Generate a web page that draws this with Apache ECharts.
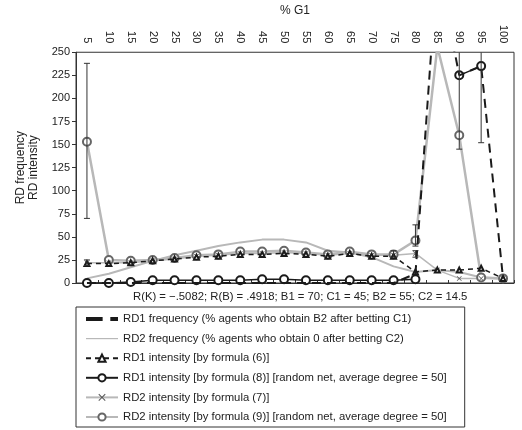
<!DOCTYPE html>
<html><head><meta charset="utf-8">
<script src="https://cdn.jsdelivr.net/npm/echarts/dist/echarts.min.js"></script>
<style>html,body{margin:0;padding:0;background:#fff}#c{width:522px;height:430px}</style>
</head><body><div id="c"></div>
<script>
const categories = ['5','10','15','20','25','30','35','40','45','50','55','60','65','70','75','80','85','90','95','100'];
const yTicks = [0, 250, 25];
const rd1Frequency = [0,0,0,0,0,0,0,0,0,0,0,0,0,0,0,10,345,225,235,5];
const rd2Frequency = [5,10,17,24,30,35,40,44,47,47,44,35,33,28,18,12,14,12,6,5];
const rd1Intensity6 = [21,21,22,24,26,28,29,31,31,32,31,29,32,29,29,12,14,14,16,5];
const rd1Intensity8 = [0,0,1,3,3,3,3,3,4,4,3,3,3,3,3,4,null,225,235,null];
const rd2Intensity7 = [22,22,22,24,26,29,30,32,32,33,32,30,32,30,30,32,14,5,5,5];
const rd2Intensity9 = [153,25,24,25,27,30,31,34,34,35,33,31,34,31,31,46,256,160,6,5];
// error bars: [category index, low, high]
const errorBars = [[0,70,238],[0,19,25],[15,40,63],[17,145,260],[18,152,260],[14,28,35],[15,28,35]];
const statsText = 'R(K) = \u2212.5082; R(B) = .4918; B1 = 70; C1 = 45; B2 = 55; C2 = 14.5';
const legendNames = [
  'RD1 frequency (% agents who obtain B2 after betting C1)',
  'RD2 frequency (% agents who obtain 0 after betting C2)',
  'RD1 intensity [by formula (6)]',
  'RD1 intensity [by formula (8)] [random net, average degree = 50]',
  'RD2 intensity [by formula (7)]',
  'RD2 intensity [by formula (9)] [random net, average degree = 50]'
];

const BLACK = '#1a1a1a', GRAY = '#b8b8b8';
const FONT = 'Liberation Sans, Arial, sans-serif';
const xMark = 'path://M0,1L1,0L5,4L9,0L10,1L6,5L10,9L9,10L5,6L1,10L0,9L4,5Z';
const dashIcon = 'path://M0,0L13,0L13,3L0,3Z M19,0L25,0L25,3L19,3Z';
const lineIcon = 'path://M0,0L32,0L32,1.2L0,1.2Z';

const chart = echarts.init(document.getElementById('c'), null, {renderer:'canvas'});
chart.setOption({
  animation: false,
  backgroundColor: '#fff',
  textStyle: {fontFamily: FONT},
  grid: {left: 76, right: 8, top: 50, bottom: 147, show: true, borderColor: '#333', borderWidth: 1, backgroundColor: 'transparent'},
  xAxis: {
    type: 'category', data: categories, position: 'top', boundaryGap: true,
    name: '% G1', nameLocation: 'middle', nameGap: 27,
    nameTextStyle: {fontSize: 12, color: '#222', fontFamily: FONT},
    axisLine: {lineStyle: {color: '#333'}},
    axisTick: {show: true, length: 3, lineStyle: {color: '#333'}},
    axisLabel: {rotate: -90, fontSize: 11, color: '#222', margin: 9, fontFamily: FONT},
    splitLine: {show: false}
  },
  yAxis: {
    type: 'value', min: yTicks[0], max: yTicks[1], interval: yTicks[2],
    name: 'RD frequency\nRD intensity', nameLocation: 'middle', nameGap: 36, nameRotate: 90,
    nameTextStyle: {fontSize: 12, color: '#222', lineHeight: 13, fontFamily: FONT},
    axisLine: {show: true, lineStyle: {color: '#333'}},
    axisTick: {show: true, length: 4, lineStyle: {color: '#333'}},
    axisLabel: {fontSize: 11, color: '#222', margin: 6, fontFamily: FONT},
    splitLine: {show: false}
  },
  legend: {
    orient: 'vertical', left: 76, top: 307,
    data: [
      {name: legendNames[0], icon: dashIcon, itemStyle: {color: BLACK}},
      {name: legendNames[1], icon: lineIcon, itemStyle: {color: GRAY}},
      legendNames[2], legendNames[3], legendNames[4], legendNames[5]
    ],
    itemWidth: 32, itemHeight: 9, itemGap: 7.6,
    padding: [6, 18, 4, 9],
    borderColor: '#333', borderWidth: 1,
    textStyle: {fontSize: 11.3, lineHeight: 12, color: '#222', fontFamily: FONT}
  },
  graphic: [{
    type: 'text', left: 133, top: 291,
    style: {text: statsText, fontSize: 11.3, fill: '#222', fontFamily: FONT}
  }],
  series: [
    {name: legendNames[1], type: 'line', data: rd2Frequency, symbol: 'none', z: 2,
     lineStyle: {color: GRAY, width: 2}, itemStyle: {color: GRAY}},
    {name: legendNames[5], type: 'line', data: rd2Intensity9, symbol: 'emptyCircle', symbolSize: 8, z: 3,
     lineStyle: {color: GRAY, width: 2.5}, itemStyle: {color: '#666', borderWidth: 1}},
    {name: legendNames[4], type: 'line', data: rd2Intensity7, symbol: xMark, symbolSize: 5, z: 3,
     lineStyle: {color: GRAY, width: 1.5}, itemStyle: {color: '#555'}},
    {name: legendNames[2], type: 'line', data: rd1Intensity6, symbol: 'emptyTriangle', symbolSize: 5, z: 4,
     lineStyle: {color: BLACK, width: 1.5, type: [5, 4]}, itemStyle: {color: BLACK, borderWidth: 1}},
    {name: legendNames[3], type: 'line', data: rd1Intensity8, symbol: 'emptyCircle', symbolSize: 8, z: 5,
     connectNulls: false,
     lineStyle: {color: BLACK, width: 1.5}, itemStyle: {color: BLACK, borderWidth: 1}},
    {name: legendNames[0], type: 'line', data: rd1Frequency, symbol: 'none', z: 6, clip: true,
     lineStyle: {color: BLACK, width: 2, type: [9, 6]}, itemStyle: {color: BLACK}},
    {name: 'err', type: 'custom', data: errorBars, z: 7, clip: true,
     renderItem: function (params, api) {
       const x = api.value(0);
       const top = api.coord([x, yTicks[1]])[1];
       const p1 = api.coord([x, api.value(1)]);
       const p2 = api.coord([x, api.value(2)]);
       const y2 = Math.max(p2[1], top);
       const w = 3;
       const st = {stroke: '#333', lineWidth: 1};
       const ch = [
         {type: 'line', shape: {x1: p1[0], y1: p1[1], x2: p2[0], y2: y2}, style: st},
         {type: 'line', shape: {x1: p1[0] - w, y1: p1[1], x2: p1[0] + w, y2: p1[1]}, style: st}
       ];
       if (p2[1] >= top) ch.push({type: 'line', shape: {x1: p2[0] - w, y1: p2[1], x2: p2[0] + w, y2: p2[1]}, style: st});
       return {type: 'group', children: ch};
     }}
  ]
});
</script></body></html>
